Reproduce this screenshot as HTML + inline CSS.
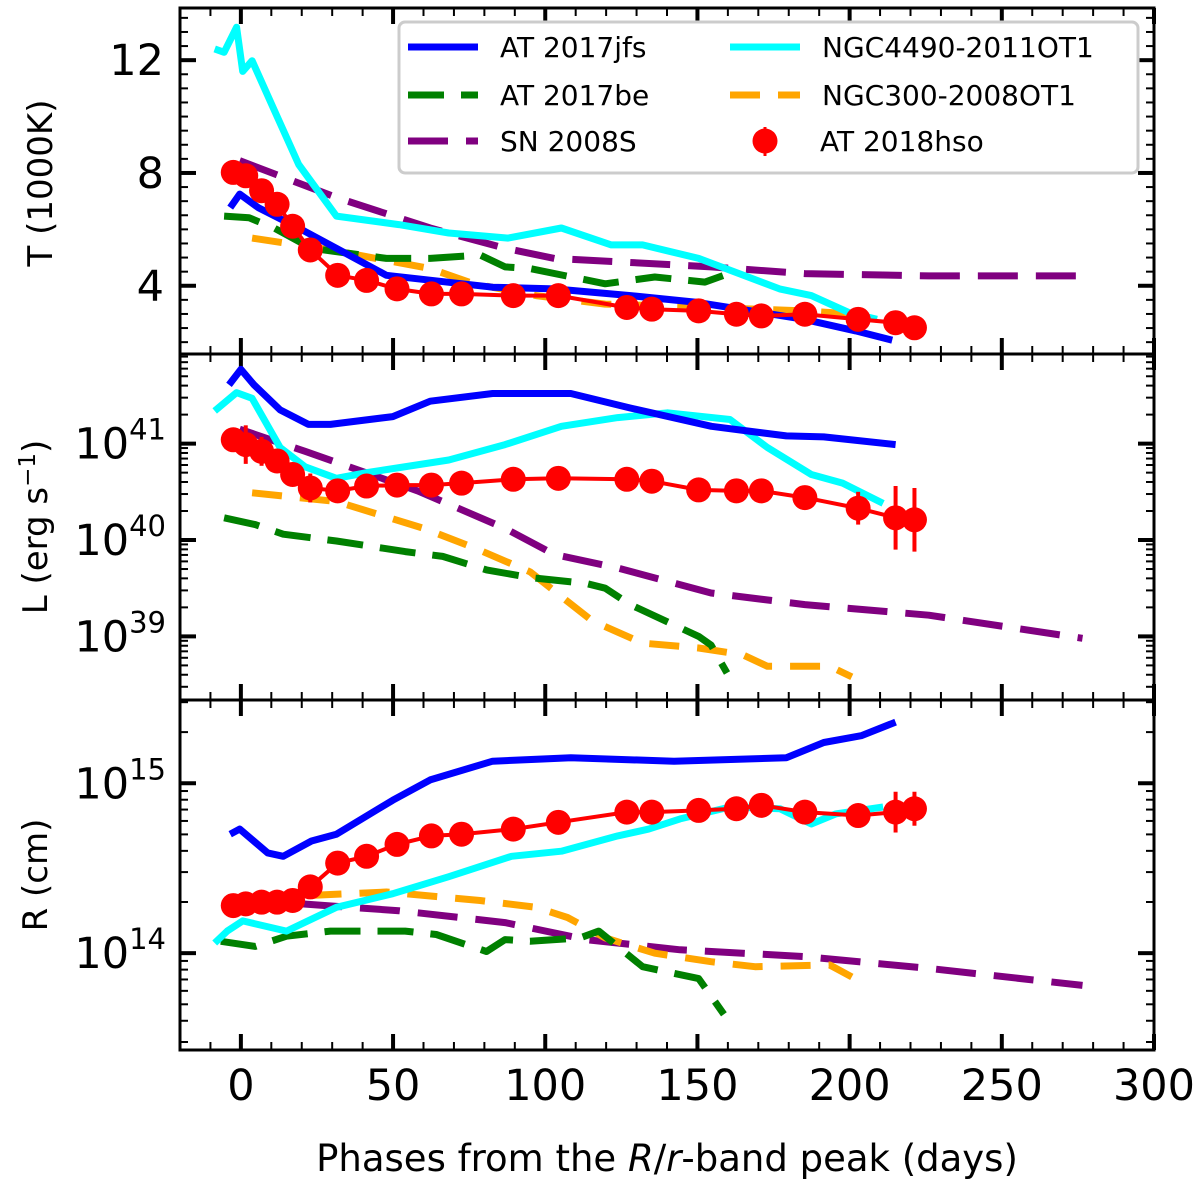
<!DOCTYPE html>
<html><head><meta charset="utf-8"><style>
body{margin:0;background:#fff;}
svg{display:block;font-family:"DejaVu Sans","Liberation Sans",sans-serif;}
</style></head><body>
<svg id="chart" width="1200" height="1186" xmlns="http://www.w3.org/2000/svg"></svg>
<script>
// ---------- data ----------
const hsoDays=[-2.5,1.6,6.8,11.9,17,22.8,31.8,41.3,51.3,62.6,72.5,89.5,104.3,126.8,135,150.4,162.8,171,185.3,202.8,215.1,221.3];
const hsoT=[8.02,7.9,7.37,6.89,6.11,5.27,4.37,4.19,3.89,3.71,3.71,3.65,3.65,3.23,3.17,3.11,2.99,2.93,2.99,2.81,2.69,2.51];
const hsoL=[41.04,40.99,40.92,40.82,40.68,40.54,40.51,40.56,40.57,40.57,40.59,40.63,40.64,40.63,40.61,40.52,40.51,40.51,40.44,40.33,40.23,40.21];
const hsoLerr=[0.08,0.2,0.15,0.12,0.08,0.15,0.12,0.05,0.05,0.05,0.05,0.05,0.05,0.05,0.05,0.05,0.05,0.05,0.05,0.17,0.33,0.33];
const hsoR=[14.28,14.29,14.30,14.30,14.31,14.39,14.53,14.57,14.64,14.69,14.70,14.73,14.77,14.83,14.83,14.84,14.85,14.87,14.83,14.81,14.83,14.85];
const hsoRerr=[0.04,0.05,0.05,0.04,0.04,0.04,0.04,0.03,0.03,0.03,0.03,0.03,0.03,0.03,0.03,0.03,0.03,0.03,0.03,0.03,0.12,0.1];

const jfsTd=[-3.5,-0.4,5.7,21,31.4,47.8,82.7,103,128,150,185,202,214];
const jfsT=[6.77,7.25,6.77,5.93,5.33,4.37,3.95,3.89,3.65,3.41,2.81,2.4,2.07];
const jfsLd=[-3.9,0,4.3,12.9,22.2,29.4,49.9,62.2,82.7,108.4,127.9,154.6,179.2,191.5,215.1];
const jfsL=[41.61,41.77,41.61,41.35,41.2,41.2,41.28,41.44,41.52,41.52,41.37,41.18,41.08,41.07,40.99];
const jfsRd=[-3.5,-0.4,8.8,13.9,23.2,31.4,49.9,62.2,82.7,108.4,142.3,179.2,191.5,203.8,215.1];
const jfsR=[14.70,14.73,14.59,14.57,14.66,14.70,14.90,15.02,15.13,15.15,15.13,15.15,15.24,15.28,15.36];

const ngc4490Td=[-8.6,-5.5,-1.4,0.6,3.7,10.9,19,31.4,51.9,68.3,87.8,105.3,121.7,132,150.4,177,187.4,199.7,209];
const ngc4490T=[12.4,12.28,13.17,11.6,11.98,10.24,8.3,6.47,6.17,5.87,5.69,6.05,5.45,5.45,4.97,3.89,3.65,3.05,2.81];
const ngc4490Ld=[-8.6,-1.4,3.7,12.9,21.1,31.4,41.7,68.3,86.8,105.3,123.8,140.2,160.7,173,187.4,197.7,211];
const ngc4490L=[41.34,41.53,41.47,40.96,40.76,40.64,40.7,40.83,40.99,41.18,41.27,41.32,41.25,40.96,40.68,40.59,40.38];
const ngc4490Rd=[-8.6,-4.5,0.6,15,31.4,49.9,68.3,88.9,105.3,123.8,134,144.3,160.7,177.1,187.4,195.6,211];
const ngc4490R=[14.06,14.13,14.19,14.13,14.27,14.35,14.45,14.57,14.60,14.69,14.73,14.79,14.86,14.85,14.76,14.82,14.86];

const be17Td=[-5.5,2.7,10.9,23.2,47.8,62.2,78.6,86.8,95,119.7,136,152.5,158.7];
const be17T=[6.47,6.41,6.05,5.33,4.97,4.97,5.09,4.67,4.61,4.07,4.31,4.13,4.37];
const be17Ld=[-5.5,4.7,13.9,31.4,54,66.3,80.7,95,113.4,119.7,127.9,150.4,154.5,159.7];
const be17L=[40.23,40.16,40.06,39.99,39.88,39.83,39.69,39.61,39.55,39.5,39.33,39.0,38.91,38.62];
const be17Rd=[-6.6,4.7,15,29.4,54,64.2,80.7,86.8,95,111.4,117.6,132,150.4,158.7];
const be17R=[14.07,14.04,14.10,14.13,14.13,14.11,14.01,14.08,14.07,14.09,14.13,13.92,13.85,13.64];

const ngc300Td=[3.7,29.4,62.2,76.6,97,119.7,154.5,185.3,202];
const ngc300T=[5.69,5.27,4.61,4.07,3.65,3.35,3.23,3.11,2.99];
const ngc300Ld=[3.7,31.4,60.1,76.6,95,115.5,132,150.4,164.8,173,193.5,200.7];
const ngc300L=[40.49,40.4,40.12,39.92,39.67,39.16,38.93,38.88,38.81,38.69,38.69,38.58];
const ngc300Rd=[23.2,47.8,78.6,97,107.3,119.7,136,154.5,168.9,193.5,200.7];
const ngc300R=[14.34,14.36,14.31,14.27,14.21,14.09,14.0,13.95,13.92,13.93,13.86];

const s08Td=[-0.4,6.8,31.4,62.2,86.8,103,123.8,154.5,185.3,226,274.6];
const s08T=[8.44,8.14,7.13,6.05,5.33,4.97,4.85,4.67,4.43,4.35,4.35];
const s08Ld=[-0.4,21.1,58.1,86.8,103,123.8,154.5,185.3,226,276.5];
const s08L=[41.15,40.92,40.51,40.12,39.85,39.71,39.45,39.33,39.22,38.98];
const s08Rd=[20.1,51.9,86.8,113.4,144.3,185.3,226,276.5];
const s08R=[14.29,14.25,14.18,14.08,14.02,13.98,13.91,13.81];

const xTicks=[0,50,100,150,200,250,300];

// ---------- layout ----------
const NS="http://www.w3.org/2000/svg";
const svg=document.getElementById('chart');
const X0=180,X1=1154,XMIN=-20,XMAX=300;
const xs=d=>X0+(d-XMIN)/(XMAX-XMIN)*(X1-X0);
const panels={
 T:{top:8,bot:354,min:1.58,max:13.85},
 L:{top:354,bot:700,min:38.34,max:41.93},
 R:{top:700,bot:1050,min:13.43,max:15.49}
};
const ysF=p=>v=>p.bot-(v-p.min)/(p.max-p.min)*(p.bot-p.top);
function el(tag,attrs,parent){const e=document.createElementNS(NS,tag);for(const k in attrs)e.setAttribute(k,attrs[k]);(parent||svg).appendChild(e);return e;}

function series(g,days,vals,y,color,dash,name,w){
  const pts=days.map((d,i)=>xs(d).toFixed(1)+','+y(vals[i]).toFixed(1)).join(' ');
  const e=el('polyline',{points:pts,fill:'none',stroke:color,'stroke-width':w||7,'stroke-dasharray':dash||'none','stroke-linejoin':'round'},g);
  
  
}
function hso(g,vals,errs,y,name){
  const pts=hsoDays.map((d,i)=>xs(d).toFixed(1)+','+y(vals[i]).toFixed(1)).join(' ');
  const l=el('polyline',{points:pts,fill:'none',stroke:'#ff0000','stroke-width':4},g);
  
  
  hsoDays.forEach((d,i)=>{
    if(errs){const e=el('line',{x1:xs(d),x2:xs(d),y1:y(vals[i]+errs[i]),y2:y(vals[i]-errs[i]),stroke:'#ff0000','stroke-width':4},g);
      
      }
    const c=el('circle',{cx:xs(d),cy:y(vals[i]),r:12.5,fill:'#ff0000'},g);
    
    
  });
}
const GD='36 17',PD='40 18',OD='30 18';
const TF=43, SF=29;

function frame(p,key){
  const y=ysF(p);
  const g=el('g',{});
  
  
  for(let d=-10;d<=300;d+=10){
    const major=d%50===0; const len=major?16:8;
    el('line',{x1:xs(d),x2:xs(d),y1:p.bot,y2:p.bot-len,stroke:'#000','stroke-width':major?4:2},g);
    el('line',{x1:xs(d),x2:xs(d),y1:p.top,y2:p.top+len,stroke:'#000','stroke-width':major?4:2},g);
  }
  return {g,y};
}
function logTicks(g,y,p,lo,hi,decs){
  for(let dec=lo;dec<=hi;dec++)for(let m=1;m<10;m++){
   const v=dec+Math.log10(m); if(v<p.min||v>p.max)continue; const major=m===1;const len=major?16:8;
   el('line',{x1:X0,x2:X0+len,y1:y(v),y2:y(v),stroke:'#000','stroke-width':major?4:2},g);
   el('line',{x1:X1,x2:X1-len,y1:y(v),y2:y(v),stroke:'#000','stroke-width':major?4:2},g);}
  decs.forEach(d=>{const t=el('text',{x:166,y:y(d)+15,'text-anchor':'end','font-size':TF},g);
   t.appendChild(document.createTextNode('10'));const s=el('tspan',{dy:-19,'font-size':SF},t);s.textContent=d;
   });
}
// T panel
(function(){
 const p=panels.T; const {g,y}=frame(p,'temperature');
 for(let v=2;v<=13.5;v+=0.5){const major=v%4===0;const len=major?16:8;
   el('line',{x1:X0,x2:X0+len,y1:y(v),y2:y(v),stroke:'#000','stroke-width':major?4:2},g);
   el('line',{x1:X1,x2:X1-len,y1:y(v),y2:y(v),stroke:'#000','stroke-width':major?4:2},g);}
 [4,8,12].forEach(v=>{const t=el('text',{x:164,y:y(v)+15,'text-anchor':'end','font-size':TF},g);t.textContent=v;
   });
 const yt=el('text',{x:0,y:0,transform:'translate(52,183) rotate(-90)','text-anchor':'middle','font-size':34},g);yt.textContent='T (1000K)';
 
 series(g,s08Td,s08T,y,'#800080',PD,'sn2008s-T');
 series(g,ngc300Td,ngc300T,y,'#ffa500',OD,'ngc300-T');
 series(g,be17Td,be17T,y,'#008000',GD,'at2017be-T');
 series(g,ngc4490Td,ngc4490T,y,'#00ffff',null,'ngc4490-T');
 series(g,jfsTd,jfsT,y,'#0000ff',null,'at2017jfs-T');
 hso(g,hsoT,null,y,'at2018hso-T');
})();
(function(){
 const p=panels.L; const {g,y}=frame(p,'luminosity');
 logTicks(g,y,p,38,42,[39,40,41]);
 const yt=el('text',{x:0,y:0,transform:`translate(47,${(p.top+p.bot)/2}) rotate(-90)`,'text-anchor':'middle','font-size':34},g);
 yt.innerHTML='L (erg s<tspan dy="-12" font-size="23">−1</tspan><tspan dy="12">)</tspan>';
 
 series(g,s08Ld,s08L,y,'#800080',PD,'sn2008s-L');
 series(g,ngc300Ld,ngc300L,y,'#ffa500',OD,'ngc300-L');
 series(g,be17Ld,be17L,y,'#008000',GD,'at2017be-L');
 series(g,ngc4490Ld,ngc4490L,y,'#00ffff',null,'ngc4490-L');
 series(g,jfsLd,jfsL,y,'#0000ff',null,'at2017jfs-L');
 hso(g,hsoL,hsoLerr,y,'at2018hso-L');
})();
(function(){
 const p=panels.R; const {g,y}=frame(p,'radius');
 logTicks(g,y,p,13,15,[14,15]);
 const yt=el('text',{x:0,y:0,transform:`translate(47,${(p.top+p.bot)/2}) rotate(-90)`,'text-anchor':'middle','font-size':34},g);yt.textContent='R (cm)';
 
 series(g,s08Rd,s08R,y,'#800080',PD,'sn2008s-R');
 series(g,ngc300Rd,ngc300R,y,'#ffa500',OD,'ngc300-R');
 series(g,be17Rd,be17R,y,'#008000',GD,'at2017be-R');
 series(g,ngc4490Rd,ngc4490R,y,'#00ffff',null,'ngc4490-R');
 series(g,jfsRd,jfsR,y,'#0000ff',null,'at2017jfs-R');
 hso(g,hsoR,hsoRerr,y,'at2018hso-R');
})();
[panels.T,panels.L,panels.R].forEach(p=>{const r=el('rect',{x:X0,y:p.top,width:X1-X0,height:p.bot-p.top,fill:'none',stroke:'#000','stroke-width':3});
 });
xTicks.forEach(d=>{const t=el('text',{x:xs(d),y:1100,'text-anchor':'middle','font-size':TF});t.textContent=d;
 });
const xt=el('text',{x:667,y:1171,'text-anchor':'middle','font-size':37});
xt.innerHTML='Phases from the <tspan font-style="italic">R</tspan>/<tspan font-style="italic">r</tspan>-band peak (days)';

// legend
const lg=el('g',{});


el('rect',{x:399,y:22,width:739,height:151,rx:6,fill:'#fff',stroke:'#ccc','stroke-width':3},lg);
const entries=[
 {x:408,y:47,c:'#0000ff',d:null,t:'AT 2017jfs'},
 {x:408,y:95,c:'#008000',d:'36 17',t:'AT 2017be'},
 {x:408,y:141,c:'#800080',d:'40 18',t:'SN 2008S'},
 {x:730,y:47,c:'#00ffff',d:null,t:'NGC4490-2011OT1'},
 {x:730,y:95,c:'#ffa500',d:'30 18',t:'NGC300-2008OT1'},
];
entries.forEach(e=>{const g=el('g',{},lg);
 
 
 el('line',{x1:e.x,x2:e.x+70,y1:e.y,y2:e.y,stroke:e.c,'stroke-width':7,'stroke-dasharray':e.d||'none'},g);
 const t=el('text',{x:e.x+92,y:e.y+10,'font-size':28},g);t.textContent=e.t;});
(function(){const g=el('g',{},lg);
 
 
 el('line',{x1:765,x2:765,y1:127,y2:156,stroke:'#ff0000','stroke-width':3},g);
 el('circle',{cx:765,cy:141,r:12.5,fill:'#ff0000'},g);
 const t=el('text',{x:820,y:151,'font-size':28},g);t.textContent='AT 2018hso';})();
</script>
</body></html>
